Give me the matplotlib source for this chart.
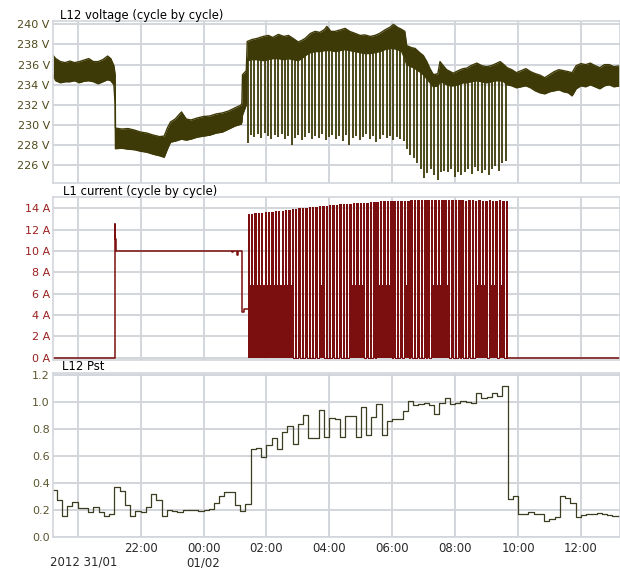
import numpy as np
import matplotlib.pyplot as plt

# time in hours counted from 31/01 00:00 (24 = 01/02 00:00)
t_start, t_end = 19.224, 37.243

# L12 voltage band, cycle by cycle: lower and upper edge of the dense trace
v_t = [19.22, 19.3, 19.45, 19.6, 19.75, 19.9, 20.05, 20.2, 20.35, 20.5, 20.65, 20.8, 20.95, 21.05, 21.15, 21.19,
       21.2, 21.4, 21.6, 21.8, 22.0, 22.2, 22.4, 22.6, 22.75, 22.85, 22.95, 23.1, 23.3, 23.45, 23.6, 23.8, 24.0,
       24.2, 24.4, 24.6, 24.8, 25.0, 25.2, 25.22, 25.24, 25.36,
       25.39, 25.55, 25.7, 25.9, 26.06, 26.2, 26.38, 26.55, 26.7, 26.85, 27.01, 27.12, 27.23, 27.4, 27.55, 27.7,
       27.85, 27.92, 28.05, 28.18, 28.35, 28.5, 28.65, 28.82, 28.98, 29.13, 29.3, 29.45, 29.6, 29.77, 29.92, 30.04,
       30.17, 30.3, 30.4, 30.46, 30.6, 30.73, 30.87, 30.99, 31.1, 31.2, 31.31, 31.45, 31.52, 31.62, 31.73, 31.85,
       31.94, 32.1, 32.25, 32.37, 32.5, 32.69, 32.85, 33.0, 33.15, 33.3, 33.43, 33.55, 33.65,
       33.8, 33.95, 34.1, 34.25, 34.4, 34.55, 34.7, 34.85, 35.0, 35.15, 35.3, 35.45, 35.6, 35.72, 35.85, 36.0,
       36.15, 36.3, 36.45, 36.6, 36.75, 36.9, 37.05, 37.27]
v_lo = [234.9, 234.4, 234.2, 234.3, 234.3, 234.4, 234.2, 234.35, 234.4, 234.3, 234.1, 234.3, 234.5, 234.4, 234.0, 232.0,
        227.65, 227.7, 227.6, 227.55, 227.4, 227.3, 227.1, 226.95, 226.8, 227.6, 228.3, 228.4, 228.6, 228.5, 228.6,
        228.8, 228.9, 229.0, 229.2, 229.3, 229.6, 229.9, 230.1, 230.3, 231.0, 232.0,
        236.4, 236.5, 236.5, 236.4, 236.5, 236.6, 236.6, 236.5, 236.6, 236.5, 236.4, 236.6, 236.9, 237.2, 237.3,
        237.3, 237.4, 237.4, 237.4, 237.3, 237.4, 237.5, 237.4, 237.3, 237.2, 237.1, 237.1, 237.2, 237.3, 237.5,
        237.6, 237.6, 237.5, 237.3, 236.6, 236.0, 235.8, 235.6, 235.3, 235.0, 234.6, 234.2, 233.8, 233.9, 234.3,
        234.2, 234.0, 233.9, 233.9, 234.0, 234.2, 234.2, 234.3, 234.4, 234.3, 234.2, 234.3, 234.4, 234.4, 234.3,
        234.0,
        233.9, 233.7, 233.8, 233.9, 233.7, 233.4, 233.2, 233.1, 233.3, 233.4, 233.5, 233.3, 233.2, 232.9, 233.6,
        233.9, 233.8, 234.0, 233.8, 233.6, 233.9, 234.0, 233.8, 233.9]
v_hi = [236.9, 236.6, 236.3, 236.2, 236.35, 236.2, 236.3, 236.45, 236.6, 236.3, 236.3, 236.5, 236.85, 236.6, 235.9, 235.0,
        229.7, 229.6, 229.65, 229.5, 229.3, 229.2, 229.0, 228.85, 228.9, 229.7, 230.3, 230.6, 231.3, 230.6, 230.5,
        230.7, 230.85, 230.9, 231.1, 231.2, 231.4, 231.7, 232.0, 232.2, 235.0, 235.4,
        238.3, 238.5, 238.6, 238.8, 238.9, 238.7, 239.0, 238.8, 238.9, 238.6, 238.25, 238.4, 238.6, 239.1, 239.3,
        239.2, 239.5, 239.8, 239.3, 239.3, 239.45, 239.6, 239.3, 239.1, 238.9, 238.95, 238.8, 238.9, 239.1, 239.45,
        239.7, 240.0, 239.7, 239.5, 239.3, 237.9, 237.7, 237.6, 237.2, 236.9, 236.3, 235.6, 235.0, 235.1, 236.3,
        235.9, 235.5, 235.3, 235.15, 235.4, 235.6, 235.65, 235.9, 236.15, 235.9, 235.8, 235.9, 236.1, 236.3, 236.0,
        235.7,
        235.5, 235.2, 235.4, 235.6, 235.3, 235.1, 234.95, 234.7, 235.0, 235.3, 235.5, 235.4, 235.3, 235.2, 235.9,
        236.1, 236.0, 236.15, 235.9, 235.7, 236.0, 236.0, 235.8, 235.9]

# on/off cycles of the load (start time of each cycle)
cycle_t = [25.40, 25.51, 25.62, 25.72, 25.83, 25.94, 26.05, 26.16, 26.26, 26.37,
           26.48, 26.59, 26.70, 26.80, 26.91, 27.02, 27.13, 27.24, 27.34, 27.45,
           27.56, 27.67, 27.78, 27.88, 27.99, 28.10, 28.21, 28.32, 28.42, 28.53,
           28.64, 28.75, 28.86, 28.96, 29.07, 29.18, 29.29, 29.40, 29.50, 29.61,
           29.72, 29.83, 29.94, 30.04, 30.15, 30.26, 30.37,
           30.48, 30.58, 30.69, 30.80, 30.91, 31.02, 31.12, 31.23, 31.34, 31.45,
           31.56, 31.66, 31.77, 31.88, 31.99, 32.10, 32.20, 32.31, 32.42, 32.53,
           32.64, 32.74, 32.85, 32.96, 33.07, 33.18, 33.28, 33.39, 33.50, 33.61]
# lowest voltage at each switching
v_dip = [228.2, 229.0, 228.8, 229.1, 228.7, 229.2, 228.9, 228.6, 229.0, 228.8,
         229.1, 228.6, 228.9, 228.0, 228.7, 229.0, 228.5, 228.8, 229.2, 228.6,
         228.9, 228.7, 229.1, 228.5, 228.8, 229.0, 228.6, 228.9, 228.4, 229.0,
         228.0, 228.7, 228.9, 228.5, 228.8, 229.1, 228.6, 228.9, 228.3, 228.6,
         229.0, 228.7, 228.9, 228.5, 228.8, 228.6, 228.4,
         227.6, 227.0, 226.7, 226.2, 225.6, 224.7, 225.2, 225.6, 225.0, 224.5,
         225.3, 225.4, 225.3, 225.6, 224.8, 225.3, 225.0, 225.3, 225.6, 225.1,
         225.8, 225.4, 225.2, 225.5, 225.0, 225.6, 225.9, 225.4, 226.2, 226.4]
# L1 current: peak while on, level of the half-load chopping while off (0 = off)
i_peak = [13.45, 13.5, 13.55, 13.6, 13.6, 13.65, 13.7, 13.7, 13.75, 13.75,
          13.8, 13.85, 13.85, 13.9, 13.95, 14.0, 14.0, 14.05, 14.1, 14.15,
          14.15, 14.2, 14.25, 14.25, 14.3, 14.3, 14.35, 14.4, 14.4, 14.45,
          14.45, 14.5, 14.5, 14.5, 14.55, 14.55, 14.6, 14.6, 14.6, 14.65,
          14.65, 14.65, 14.7, 14.7, 14.7, 14.7, 14.7,
          14.7, 14.75, 14.75, 14.75, 14.75, 14.8, 14.8, 14.75, 14.8, 14.8,
          14.75, 14.8, 14.75, 14.8, 14.8, 14.75, 14.8, 14.7, 14.75, 14.8,
          14.7, 14.75, 14.7, 14.7, 14.75, 14.7, 14.7, 14.75, 14.7, 14.7]
i_low = [6.8, 6.8, 6.8, 6.8, 6.8, 6.8, 6.8, 6.8, 6.8, 6.8,
         6.8, 6.8, 6.8, 0, 0, 0, 0, 0, 0, 0,
         0, 6.8, 0, 0, 0, 0, 0, 0, 0, 0,
         6.8, 6.8, 6.8, 6.8, 0, 0, 0, 0, 6.8, 6.8,
         6.8, 6.8, 0, 0, 0, 0, 6.8,
         0, 0, 0, 0, 0, 0, 0, 6.8, 6.8, 6.8,
         6.8, 6.8, 0, 0, 0, 0, 0, 0, 0, 0,
         6.8, 6.8, 6.8, 0, 6.8, 6.8, 0, 6.8, 0, 0]
on_h = 0.04

# current before the cycling starts and after it stops
i_pre_t = [19.22, 21.183, 21.19, 21.197, 21.205, 24.9, 24.95, 25.08, 25.1, 25.21, 25.225, 25.3, 25.40]
i_pre_a = [0.0, 5.0, 12.5, 11.1, 10.0, 9.95, 10.0, 9.6, 10.0, 7.4, 4.3, 4.6, 4.6]
i_post_t = [33.66, 37.3]
i_post_a = [0.0, 0.0]

# L12 Pst, 10 minute values starting 31/01 19:10
pst = [0.35, 0.27, 0.15, 0.23, 0.26,
       0.215, 0.21, 0.18, 0.22, 0.18, 0.155,
       0.165, 0.37, 0.34, 0.235, 0.15, 0.19,
       0.185, 0.22, 0.32, 0.27, 0.15, 0.195,
       0.19, 0.185, 0.195, 0.2, 0.2, 0.19,
       0.195, 0.205, 0.25, 0.3, 0.33, 0.33,
       0.235, 0.19, 0.24, 0.65, 0.66, 0.59,
       0.68, 0.73, 0.65, 0.78, 0.82, 0.69,
       0.84, 0.90, 0.73, 0.735, 0.94, 0.74,
       0.88, 0.87, 0.74, 0.895, 0.895, 0.74,
       0.96, 0.755, 0.89, 0.985, 0.755, 0.86,
       0.875, 0.87, 0.935, 1.01, 0.98, 0.985,
       0.99, 0.98, 0.91, 0.99, 1.03, 0.985,
       0.99, 1.01, 1.0, 0.99, 1.065, 1.03,
       1.04, 1.065, 1.045, 1.12, 0.28, 0.30,
       0.17, 0.165, 0.185, 0.165, 0.165, 0.12,
       0.13, 0.145, 0.305, 0.29, 0.25, 0.145,
       0.16, 0.165, 0.17, 0.175, 0.17, 0.16,
       0.155, 0.155]
pst_start = 19 + 10 / 60

hour_ticks = [20, 22, 24, 26, 28, 30, 32, 34, 36]
hour_labels = ["", "22:00", "00:00\n01/02", "02:00", "04:00", "06:00", "08:00", "10:00", "12:00"]

VCOL = "#3e3a08"
ICOL = "#7b0e0e"
PCOL = "#3d3d22"
GRID = "#d2d5da"

fig = plt.figure(figsize=(6.2, 5.68), dpi=100)
ax_v = fig.add_axes([0.086, 0.6783, 0.914, 0.2852])
ax_i = fig.add_axes([0.086, 0.3665, 0.914, 0.2871])
ax_p = fig.add_axes([0.086, 0.0551, 0.914, 0.2877])

for ax in (ax_v, ax_i, ax_p):
    ax.set_xlim(t_start, t_end)
    ax.set_xticks(hour_ticks)
    ax.grid(True, color=GRID, lw=1.4)
    ax.set_axisbelow(True)
    for s in ax.spines.values():
        s.set_color(GRID)
        s.set_linewidth(1.2)
    ax.tick_params(length=0, pad=2.5, labelsize=8)

# voltage
ax_v.fill_between(v_t, v_lo, v_hi, color=VCOL, lw=0)
ax_v.plot(v_t, v_hi, color=VCOL, lw=1.0)
ax_v.plot(v_t, v_lo, color=VCOL, lw=1.0)
top = np.interp(cycle_t, v_t, v_lo) + 0.3
ax_v.vlines(cycle_t, v_dip, top, color=VCOL, lw=1.3)
ax_v.set_ylim(224.27, 240.36)
ax_v.set_yticks(range(226, 241, 2))
ax_v.set_yticklabels([f"{v} V" for v in range(226, 241, 2)], color="#4f4a1c")
ax_v.set_xticklabels([])

# current: steady part, then the on/off cycling
ax_i.plot(i_pre_t, i_pre_a, color=ICOL, lw=1.1, drawstyle="steps-post")
ax_i.plot(i_post_t, i_post_a, color=ICOL, lw=1.1)
ax_i.bar(cycle_t, i_peak, width=on_h, align="edge", color=ICOL, lw=0, antialiased=False)
it, ia = [], []
for k, t in enumerate(cycle_t):
    nxt = cycle_t[k + 1] if k + 1 < len(cycle_t) else i_post_t[0]
    it += [t, t + on_h]
    ia += [i_peak[k], i_low[k]]
    if i_low[k] > 0:
        # fast chopping between 0 and the half-load level paints a solid block
        ax_i.fill_between([t, nxt], 0, i_low[k], color=ICOL, lw=0, antialiased=False)
it.append(i_post_t[0])
ia.append(0.0)
ax_i.plot(it, ia, color=ICOL, lw=0.72, drawstyle="steps-post", antialiased=False)
ax_i.set_ylim(-0.2, 15.09)
ax_i.set_yticks(range(0, 15, 2))
ax_i.set_yticklabels([f"{a} A" for a in range(0, 15, 2)], color="#9a2020")
ax_i.set_xticklabels([])

# Pst
pt = pst_start + np.arange(len(pst)) / 6
ax_p.plot(np.append(pt, t_end + 0.1), np.append(pst, pst[-1]), color=PCOL, lw=0.9, drawstyle="steps-post")
ax_p.set_ylim(0, 1.213)
ax_p.set_yticks(np.arange(0, 1.21, 0.2))
ax_p.set_yticklabels([f"{p:.1f}" for p in np.arange(0, 1.21, 0.2)], color="#5b5630")
ax_p.set_xticklabels(hour_labels, color="#2a2a2a", fontsize=8.5, linespacing=1.15)
ax_p.tick_params(axis="x", pad=4)

fig.text(60 / 620, 1 - 15 / 568, "L12 voltage (cycle by cycle)", fontsize=8.4, va="center")
fig.text(63 / 620, 1 - 192 / 568, "L1 current (cycle by cycle)", fontsize=8.4, va="center")
fig.text(62 / 620, 1 - 367 / 568, "L12 Pst", fontsize=8.4, va="center")
fig.text(50 / 620, 1 - 562 / 568, "2012 31/01", fontsize=8.5, color="#2a2a2a", va="center")

fig.savefig("out.png", dpi=100)
